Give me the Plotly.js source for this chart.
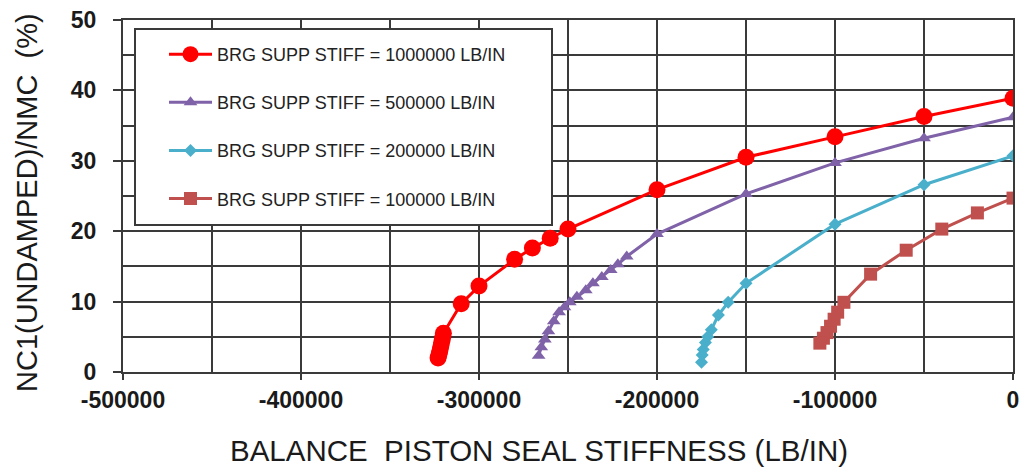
<!DOCTYPE html>
<html>
<head>
<meta charset="utf-8">
<script src="https://cdn.plot.ly/plotly-3.0.1.min.js"></script>
<style>html,body{margin:0;padding:0;background:#fff;}#chart{width:1021px;height:468px;}</style>
</head>
<body>
<div id="chart"></div>
<script>
// Data
const seriesNames = [
  "BRG SUPP STIFF = 1000000 LB/IN",
  "BRG SUPP STIFF = 500000 LB/IN",
  "BRG SUPP STIFF = 200000 LB/IN",
  "BRG SUPP STIFF = 100000 LB/IN"
];
const k1000000_x = [0, -50000, -100000, -150000, -200000, -250000, -260000, -270000, -280000, -300000, -310000, -320000, -320500, -321000, -321500, -322000, -322500, -323000];
const k1000000_y = [38.9, 36.3, 33.4, 30.5, 25.9, 20.3, 19.0, 17.6, 16.0, 12.2, 9.7, 5.5, 4.8, 4.2, 3.6, 3.0, 2.5, 2.0];
const k500000_x = [0, -50000, -100000, -150000, -200000, -217000, -222000, -226000, -231000, -236000, -240000, -245000, -249000, -252000, -255000, -258000, -261000, -263000, -265000, -266500];
const k500000_y = [36.2, 33.2, 29.7, 25.3, 19.6, 16.4, 15.3, 14.5, 13.5, 12.6, 11.6, 10.7, 9.9, 9.2, 8.5, 7.2, 5.8, 4.6, 3.5, 2.3];
const k200000_x = [0, -50000, -100000, -150000, -160000, -165500, -169500, -171500, -172800, -174000, -174600, -175000];
const k200000_y = [30.7, 26.6, 21.0, 12.6, 9.9, 8.1, 6.0, 5.0, 4.2, 3.2, 2.4, 1.4];
const k100000_x = [0, -20000, -40000, -60000, -80000, -95000, -98500, -100500, -102500, -104500, -106500, -108500];
const k100000_y = [24.7, 22.6, 20.3, 17.3, 13.9, 9.9, 8.5, 7.5, 6.5, 5.6, 4.8, 4.1];
const xTickVals = [-500000, -400000, -300000, -200000, -100000, 0];
const xTickText = ["-500000", "-400000", "-300000", "-200000", "-100000", "0"];
const yTickVals = [0, 10, 20, 30, 40, 50];
const xTitle = "BALANCE  PISTON SEAL STIFFNESS (LB/IN)";
const yTitle = "NC1(UNDAMPED)/NMC  (%)";

const styles = [
  {color: "#FF0000", symbol: "circle", size: 17},
  {color: "#7F62A8", symbol: "triangle-up", size: 12},
  {color: "#4AAFCB", symbol: "diamond", size: 10},
  {color: "#C0504D", symbol: "square", size: 13}
];
const xs = [k1000000_x, k500000_x, k200000_x, k100000_x];
const ys = [k1000000_y, k500000_y, k200000_y, k100000_y];

const traces = xs.map((x, i) => ({
  type: "scatter",
  mode: "lines+markers",
  x: x,
  y: ys[i],
  name: seriesNames[i],
  legendgroup: "g" + i,
  line: {color: styles[i].color, width: 3},
  marker: {color: styles[i].color, symbol: styles[i].symbol, size: styles[i].size}
}));

const FONT = "Liberation Sans, Arial, sans-serif";
const gridColor = "#3a3a3a";
const layout = {
  width: 1021,
  height: 468,
  margin: {l: 123, r: 8, t: 20, b: 96},
  paper_bgcolor: "#fff",
  plot_bgcolor: "#fff",
  showlegend: true,
  font: {family: FONT, color: "#1a1a1a"},
  xaxis: {
    range: [-500000, 0],
    tickmode: "array",
    tickvals: xTickVals,
    ticktext: xTickText,
    ticks: "outside",
    ticklen: 6,
    tickwidth: 2,
    tickcolor: gridColor,
    tickfont: {size: 23, family: FONT, weight: "bold", color: "#1a1a1a"},
    showgrid: true,
    gridcolor: gridColor,
    gridwidth: 2,
    minor: {dtick: 50000, tick0: 0, showgrid: true, gridcolor: gridColor, gridwidth: 2},
    showline: true,
    linecolor: gridColor,
    linewidth: 2,
    mirror: true,
    zeroline: false
  },
  yaxis: {
    range: [0, 50],
    tickmode: "array",
    tickvals: yTickVals,
    ticks: "outside",
    ticklen: 8,
    tickwidth: 2,
    tickcolor: gridColor,
    ticklabelstandoff: 12,
    tickfont: {size: 23, family: FONT, weight: "bold", color: "#1a1a1a"},
    showgrid: true,
    gridcolor: gridColor,
    gridwidth: 2,
    minor: {dtick: 5, tick0: 0, showgrid: true, gridcolor: gridColor, gridwidth: 2},
    showline: true,
    linecolor: gridColor,
    linewidth: 2,
    mirror: true,
    zeroline: false
  },
  annotations: [
    {
      text: xTitle, xref: "paper", yref: "paper",
      x: (539 - 123) / 890, y: -(450 - 372) / 352,
      xanchor: "center", yanchor: "middle", showarrow: false,
      font: {size: 29.5, family: FONT, color: "#1a1a1a"}
    },
    {
      text: yTitle, xref: "paper", yref: "paper",
      x: (27 - 123) / 890, y: (372 - 203) / 352,
      xanchor: "center", yanchor: "middle", showarrow: false, textangle: -90,
      font: {size: 29, family: FONT, color: "#1a1a1a"}
    }
  ],
  shapes: [{
    type: "rect", xref: "paper", yref: "paper",
    x0: (135 - 123) / 890, x1: (552 - 123) / 890,
    y0: 1 - (225 - 20) / 352, y1: 1 - (29 - 20) / 352,
    fillcolor: "#fff",
    line: {color: "#3a3a3a", width: 2},
    layer: "above"
  }],
  legend: {
    x: (164 - 123) / 890,
    y: 1 - (36 - 20) / 352,
    xanchor: "left",
    yanchor: "top",
    bgcolor: "rgba(0,0,0,0)",
    borderwidth: 0,
    traceorder: "grouped",
    tracegroupgap: 21.7,
    itemwidth: 43,
    font: {size: 18, family: FONT, color: "#222"}
  }
};

Plotly.newPlot("chart", traces, layout, {displayModeBar: false, staticPlot: true});
</script>
</body>
</html>
